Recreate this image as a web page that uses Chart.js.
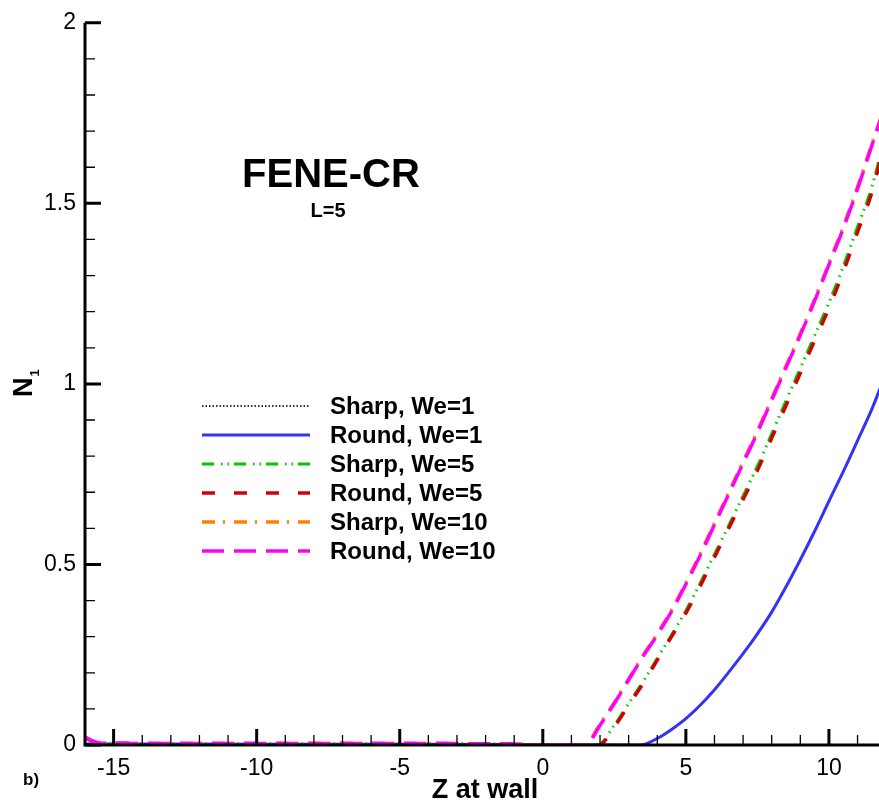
<!DOCTYPE html>
<html lang="en">

<head>
    <meta charset="UTF-8" />
    <title>FENE-CR N1 at wall</title>
    <script src="https://cdn.jsdelivr.net/npm/chart.js"></script>
    <style>
        html,
        body {
            margin: 0;
            padding: 0;
            background: #fff;
        }

        #wrap {
            width: 879px;
            height: 804px;
        }
    </style>
</head>

<body>
    <div id="wrap"><canvas id="n1Chart" width="879" height="804"></canvas></div>

    <script>
        // axis ticks
        const xTicks = [-15, -10, -5, 0, 5, 10];
        const yTicks = [0, 0.5, 1, 1.5, 2];

        // Round, We=1 (blue) and Sharp, We=1 (black dotted, sits under it)
        const zRoundWe1 = [-16, -10, -5, 0, 3.4, 4, 4.5, 5, 5.5, 6, 6.5, 7, 7.5, 8, 8.5, 9, 9.5, 10, 10.5, 11, 11.5, 11.8];
        const nRoundWe1 = [0.003, 0.002, 0.002, 0.001, 0, 0.018, 0.043, 0.073, 0.11, 0.153, 0.202, 0.253, 0.308, 0.368, 0.438, 0.513, 0.592, 0.675, 0.757, 0.843, 0.93, 0.99];
        const zSharpWe1 = [-16, -10, -5, 0, 3.4, 4, 4.5, 5, 5.5, 6, 6.5, 7, 7.5, 8, 8.5, 9, 9.5, 10, 10.5, 11, 11.5, 11.8];
        const nSharpWe1 = [0.003, 0.002, 0.002, 0.001, 0, 0.018, 0.043, 0.073, 0.11, 0.153, 0.202, 0.253, 0.308, 0.368, 0.438, 0.513, 0.592, 0.675, 0.757, 0.843, 0.93, 0.99];

        // We=5
        const zRoundWe5 = [-16, -15.7, -15.4, -10, -5, -1, -0.5, 0, 1.96, 2.5, 3, 3.5, 4, 4.5, 5, 5.5, 6, 6.5, 7, 7.5, 8, 8.5, 9, 9.5, 10, 10.5, 11, 11.5, 11.8];
        const nRoundWe5 = [0.02, 0.009, 0.005, 0.004, 0.004, 0.003, 0.001, 0, 0, 0.05, 0.11, 0.17, 0.235, 0.3, 0.365, 0.44, 0.52, 0.6, 0.68, 0.76, 0.85, 0.94, 1.03, 1.12, 1.21, 1.31, 1.42, 1.53, 1.62];
        const zSharpWe5 = [-16, -15.7, -15.4, -10, -5, -1, -0.5, 0, 1.92, 2.5, 3, 3.5, 4, 4.5, 5, 5.5, 6, 6.5, 7, 7.5, 8, 8.5, 9, 9.5, 10, 10.5, 11, 11.5, 11.8];
        const nSharpWe5 = [0.02, 0.009, 0.005, 0.004, 0.004, 0.003, 0.001, 0, 0, 0.055, 0.115, 0.175, 0.24, 0.305, 0.372, 0.448, 0.528, 0.608, 0.69, 0.772, 0.862, 0.953, 1.043, 1.134, 1.225, 1.325, 1.435, 1.545, 1.635];

        // We=10
        const zRoundWe10 = [-16, -15.7, -15.4, -10, -5, -1, -0.5, 0, 1.5, 2, 2.5, 3, 3.5, 4, 4.5, 5, 5.5, 6, 6.5, 7, 7.5, 8, 8.5, 9, 9.5, 10, 10.5, 11, 11.5, 11.8];
        const nRoundWe10 = [0.022, 0.01, 0.005, 0.004, 0.004, 0.003, 0.001, 0, 0, 0.055, 0.115, 0.18, 0.245, 0.305, 0.37, 0.445, 0.525, 0.61, 0.695, 0.78, 0.865, 0.955, 1.045, 1.135, 1.23, 1.33, 1.43, 1.54, 1.66, 1.73];
        const zSharpWe10 = [-16, -15.7, -15.4, -10, -5, -1, -0.5, 0, 1.46, 2, 2.5, 3, 3.5, 4, 4.5, 5, 5.5, 6, 6.5, 7, 7.5, 8, 8.5, 9, 9.5, 10, 10.5, 11, 11.5, 11.8];
        const nSharpWe10 = [0.022, 0.01, 0.005, 0.004, 0.004, 0.003, 0.001, 0, 0, 0.058, 0.118, 0.183, 0.248, 0.308, 0.374, 0.449, 0.53, 0.615, 0.7, 0.785, 0.87, 0.96, 1.05, 1.14, 1.235, 1.335, 1.436, 1.546, 1.665, 1.735];

        const FONT = "'Liberation Sans', Arial, Helvetica, sans-serif";

        function pts(xs, ys) {
            return xs.map((x, i) => ({ x: x, y: ys[i] }));
        }

        function series(label, xs, ys, color, width, dash, order) {
            return {
                label: label,
                data: pts(xs, ys),
                borderColor: color,
                borderWidth: width,
                borderDash: dash,
                pointRadius: 0,
                fill: false,
                cubicInterpolationMode: 'monotone',
                order: order
            };
        }

        const datasets = [
            series('Sharp, We=1', zSharpWe1, nSharpWe1, '#333333', 2, [1.5, 2], 6),
            series('Round, We=1', zRoundWe1, nRoundWe1, '#3434f4', 3, [], 5),
            series('Sharp, We=5', zSharpWe5, nSharpWe5, '#00c800', 3, [12, 7, 1.5, 5, 1.5, 5], 4),
            series('Round, We=5', zRoundWe5, nRoundWe5, '#d40000', 3.5, [13, 19], 3),
            series('Sharp, We=10', zSharpWe10, nSharpWe10, '#ff8000', 3.5, [13, 8, 2, 9], 2),
            series('Round, We=10', zRoundWe10, nRoundWe10, '#ff00ff', 3.5, [22, 10], 1)
        ];

        // axes with inward ticks, texts and the line legend
        const decorations = {
            id: 'decorations',
            afterDatasetsDraw(chart) {
                const ctx = chart.ctx;
                const a = chart.chartArea;
                const xs = chart.scales.x;
                const ys = chart.scales.y;
                ctx.save();
                ctx.strokeStyle = '#000';
                ctx.lineCap = 'butt';

                // minor ticks
                ctx.lineWidth = 1.3;
                ctx.beginPath();
                for (let v = -16; v <= 11; v++) {
                    if (v % 5 === 0) continue;
                    const px = xs.getPixelForValue(v);
                    ctx.moveTo(px, a.bottom);
                    ctx.lineTo(px, a.bottom - 10);
                }
                for (let k = 1; k < 20; k++) {
                    if (k % 5 === 0) continue;
                    const py = ys.getPixelForValue(k / 10);
                    ctx.moveTo(a.left, py);
                    ctx.lineTo(a.left + 10, py);
                }
                ctx.stroke();

                // major ticks
                ctx.lineWidth = 3;
                ctx.beginPath();
                xTicks.forEach(v => {
                    const px = xs.getPixelForValue(v);
                    ctx.moveTo(px, a.bottom);
                    ctx.lineTo(px, a.bottom - 16);
                });
                yTicks.forEach(v => {
                    const py = ys.getPixelForValue(v);
                    ctx.moveTo(a.left, py);
                    ctx.lineTo(a.left + 16, py);
                });
                ctx.stroke();

                // axis lines
                ctx.lineWidth = 3;
                ctx.beginPath();
                ctx.moveTo(a.left, a.top);
                ctx.lineTo(a.left, a.bottom);
                ctx.lineTo(a.right + 2, a.bottom);
                ctx.stroke();

                // texts
                ctx.fillStyle = '#000';
                ctx.textAlign = 'center';
                ctx.textBaseline = 'alphabetic';
                ctx.font = 'bold 40px ' + FONT;
                ctx.fillText('FENE-CR', 331, 187);
                ctx.font = 'bold 20px ' + FONT;
                ctx.fillText('L=5', 328, 217);
                ctx.font = 'bold 27px ' + FONT;
                ctx.fillText('Z at wall', 485, 798);
                ctx.textAlign = 'left';
                ctx.font = 'bold 17px ' + FONT;
                ctx.fillText('b)', 23, 785);

                // y axis title N1, rotated
                ctx.save();
                ctx.translate(32, 397);
                ctx.rotate(-Math.PI / 2);
                ctx.font = 'bold 27px ' + FONT;
                ctx.fillText('N', 0, 0);
                const w = ctx.measureText('N').width;
                ctx.font = 'bold 13px ' + FONT;
                ctx.fillText('1', w + 1, 7);
                ctx.restore();

                // legend
                const rowY = [406, 435, 464, 493, 522, 551];
                chart.data.datasets.forEach((ds, i) => {
                    const y = rowY[i];
                    ctx.save();
                    ctx.strokeStyle = ds.borderColor;
                    ctx.lineWidth = ds.borderWidth;
                    ctx.setLineDash(ds.borderDash || []);
                    ctx.beginPath();
                    ctx.moveTo(202, y);
                    ctx.lineTo(310, y);
                    ctx.stroke();
                    ctx.restore();
                    ctx.font = 'bold 24px ' + FONT;
                    ctx.textBaseline = 'middle';
                    ctx.fillText(ds.label, 330, y + 1);
                });
                ctx.restore();
            }
        };

        new Chart(document.getElementById('n1Chart'), {
            type: 'line',
            data: { datasets: datasets },
            plugins: [decorations],
            options: {
                responsive: false,
                animation: false,
                layout: { padding: { top: 20, right: 0, left: 0, bottom: 0 } },
                plugins: {
                    legend: { display: false },
                    tooltip: { enabled: false }
                },
                scales: {
                    x: {
                        type: 'linear',
                        min: -16,
                        max: 11.75,
                        afterBuildTicks: s => { s.ticks = xTicks.map(v => ({ value: v })); },
                        afterFit: s => { s.height = 59; },
                        grid: { display: false, drawTicks: false },
                        border: { display: false },
                        ticks: {
                            padding: 10,
                            color: '#000',
                            maxRotation: 0,
                            autoSkip: false,
                            font: { family: FONT, size: 23 },
                            callback: v => String(v)
                        }
                    },
                    y: {
                        type: 'linear',
                        min: 0,
                        max: 2,
                        afterBuildTicks: s => { s.ticks = yTicks.map(v => ({ value: v })); },
                        afterFit: s => { s.width = 85; },
                        grid: { display: false, drawTicks: false },
                        border: { display: false },
                        ticks: {
                            padding: 9,
                            color: '#000',
                            font: { family: FONT, size: 23 },
                            callback: v => String(v)
                        }
                    }
                }
            }
        });
    </script>
</body>

</html>
